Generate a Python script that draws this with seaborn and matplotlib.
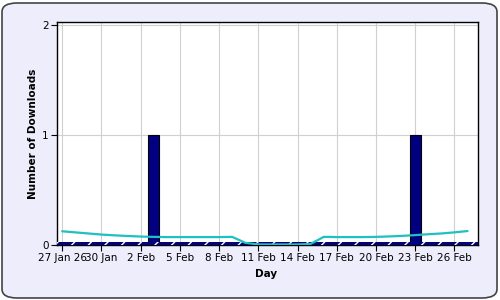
import matplotlib
matplotlib.use("Agg")
import matplotlib.pyplot as plt
from matplotlib.patches import FancyBboxPatch
import numpy as np
import pandas as pd
import seaborn as sns

days = ["27 Jan", "28 Jan", "29 Jan", "30 Jan", "31 Jan", "1 Feb", "2 Feb", "3 Feb",
        "4 Feb", "5 Feb", "6 Feb", "7 Feb", "8 Feb", "9 Feb", "10 Feb", "11 Feb",
        "12 Feb", "13 Feb", "14 Feb", "15 Feb", "16 Feb", "17 Feb", "18 Feb", "19 Feb",
        "20 Feb", "21 Feb", "22 Feb", "23 Feb", "24 Feb", "25 Feb", "26 Feb", "27 Feb"]
downloads = [0, 0, 0, 0, 0, 0, 0, 1, 0, 0, 0, 0, 0, 0, 0, 0,
             0, 0, 0, 0, 0, 0, 0, 0, 0, 0, 0, 1, 0, 0, 0, 0]
trend = [0.125, 0.115, 0.105, 0.095, 0.088, 0.082, 0.077, 0.074, 0.072, 0.072, 0.072,
         0.072, 0.072, 0.074, 0.02, 0.005, 0.005, 0.005, 0.005, 0.01, 0.074, 0.072,
         0.072, 0.072, 0.074, 0.078, 0.083, 0.09, 0.098, 0.105, 0.115, 0.127]
tick_labels = ["27 Jan 26", "30 Jan", "2 Feb", "5 Feb", "8 Feb", "11 Feb", "14 Feb",
               "17 Feb", "20 Feb", "23 Feb", "26 Feb"]
y_ticks = [0, 1, 2]

df = pd.DataFrame({"day": days, "downloads": downloads, "trend": trend})
df["pos"] = np.arange(len(df))

sns.set_style("white")
plt.rcParams["font.family"] = ["DejaVu Sans"]
plt.rcParams["text.color"] = "black"
plt.rcParams["axes.labelcolor"] = "black"
plt.rcParams["xtick.color"] = "black"
plt.rcParams["ytick.color"] = "black"

bg = "#EDEDFB"
fig = plt.figure(figsize=(5, 3), dpi=100)
fig.patch.set_facecolor("white")
border = FancyBboxPatch((2 / 500, 2 / 300), 495 / 500, 295 / 300,
                        boxstyle="round,pad=0,rounding_size=0.03",
                        transform=fig.transFigure, facecolor=bg,
                        edgecolor="#444444", linewidth=1.2, zorder=-10)
fig.patches.append(border)

ax = fig.add_axes([57 / 500, 1 - 245 / 300, (478 - 57) / 500, (245 - 22) / 300])
ax.set_facecolor("white")

sns.barplot(data=df, x="pos", y="downloads", order=list(df["pos"]),
            color="#000080", edgecolor="black", linewidth=0.8, width=0.85,
            saturation=1, ax=ax, zorder=3)
sns.lineplot(data=df, x="pos", y="trend", color="#1EC0C0", linewidth=1.6,
             ax=ax, zorder=5)

ax.axhspan(0, 0.028, facecolor="#000080", edgecolor="white", hatch="//",
           linewidth=0, zorder=4)

ax.set_xlim(-0.4, 31.8)
ax.set_ylim(0, 2.03)
tick_pos = list(df["pos"][::3])
ax.set_xticks(tick_pos)
ax.set_xticklabels(tick_labels, fontsize=7.5)
ax.set_yticks(y_ticks)
ax.set_yticklabels([str(v) for v in y_ticks], fontsize=7.5)
ax.grid(True, color="#D0D0D0", linewidth=0.8, zorder=0)
ax.set_axisbelow(True)
ax.tick_params(axis="both", direction="out", length=4, width=0.8, color="black",
               labelcolor="black", pad=2, bottom=True, left=True)
for s in ax.spines.values():
    s.set_color("black")
    s.set_linewidth(1.0)

ax.set_xlabel("Day", fontsize=7.5, fontweight="bold", color="black")
ax.set_ylabel("Number of Downloads", fontsize=7.5, fontweight="bold", color="black")
ax.yaxis.set_label_coords(-0.046, 0.5)
ax.xaxis.set_label_coords(0.497, -0.108)

fig.savefig("out.png", dpi=100, facecolor=fig.get_facecolor())
